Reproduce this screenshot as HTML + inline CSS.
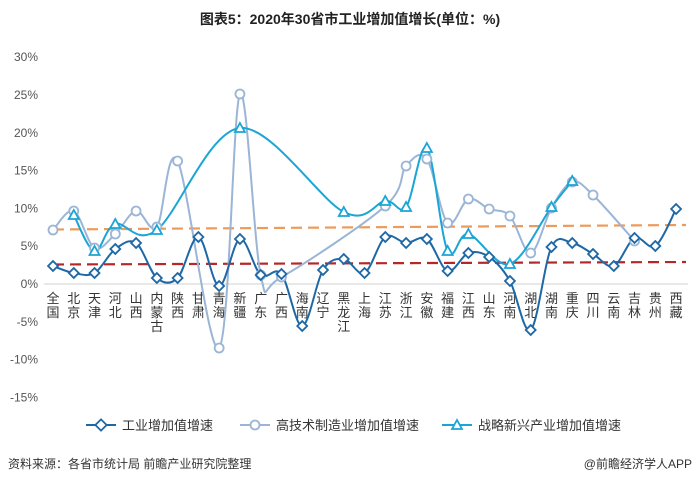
<!DOCTYPE html>
<html><head><meta charset="utf-8"><style>
body{margin:0;background:#fff;}
svg text{font-family:"Liberation Sans","Noto Sans CJK SC",sans-serif;}
</style></head><body>
<svg id="s" width="700" height="484" xmlns="http://www.w3.org/2000/svg">
<rect width="700" height="484" fill="#fff"/>
<text x="350" y="24" text-anchor="middle" font-size="14" font-weight="bold" fill="#222">图表5：2020年30省市工业增加值增长(单位：%)</text>
<g id="yax" font-size="12" fill="#555" text-anchor="end"></g>
<line x1="44" y1="284" x2="688" y2="284" stroke="#d0d0d0" stroke-width="1"/>
<g id="cat" font-size="13" fill="#333"></g>
<line x1="53" y1="229.5" x2="686" y2="225" stroke="#ee9a5a" stroke-width="2.2" stroke-dasharray="11,6"/>
<line x1="53" y1="264.5" x2="686" y2="262" stroke="#b5282a" stroke-width="2.2" stroke-dasharray="11,6"/>
<g id="series"></g>
<g font-size="13" fill="#333">
<line x1="86" y1="425" x2="116" y2="425" stroke="#1f68a6" stroke-width="2"/>
<rect x="97" y="421" width="8" height="8" transform="rotate(45 101 425)" fill="#fff" stroke="#1f68a6" stroke-width="1.8"/>
<text x="122" y="430">工业增加值增速</text>
<line x1="240" y1="425" x2="270" y2="425" stroke="#9ab5d6" stroke-width="2"/>
<circle cx="255" cy="425" r="4.5" fill="#fff" stroke="#9ab5d6" stroke-width="1.8"/>
<text x="276" y="430">高技术制造业增加值增速</text>
<line x1="442" y1="425" x2="472" y2="425" stroke="#1aa5d6" stroke-width="2"/>
<polygon points="457,420 462,429 452,429" fill="#fff" stroke="#1aa5d6" stroke-width="1.8"/>
<text x="478" y="430">战略新兴产业增加值增速</text>
</g>
<text x="8" y="468" font-size="12" fill="#333">资料来源：各省市统计局 前瞻产业研究院整理</text>
<text x="692" y="468" font-size="12" fill="#333" text-anchor="end">@前瞻经济学人APP</text>
</svg>
<script>
var NS="http://www.w3.org/2000/svg";
function el(t,a,p){var e=document.createElementNS(NS,t);for(var k in a)e.setAttribute(k,a[k]);p.appendChild(e);return e;}
var ya=document.getElementById('yax');
for(var v=30;v>=-15;v-=5){var y=284-v*7.56;var t=el('text',{x:38,y:y+4},ya);t.textContent=v+'%';}
var cats=["全国","北京","天津","河北","山西","内蒙古","陕西","甘肃","青海","新疆","广东","广西","海南","辽宁","黑龙江","上海","江苏","浙江","安徽","福建","江西","山东","河南","湖北","湖南","重庆","四川","云南","吉林","贵州","西藏"];
function X(i){return 53+i*20.77;}
var cg=document.getElementById('cat');
cats.forEach(function(c,i){for(var k=0;k<c.length;k++){var t=el('text',{x:X(i),y:303+k*14,'text-anchor':'middle'},cg);t.textContent=c[k];}});
var dark=[266,273,273,249,243,278,278,237,286,239,275,274,326,270,259,273,237,243,239,271,253,257,281,330,247,243,254,266,238,246,209];
var light={0:230,1:211,2:248,3:234,4:211,5:227,6:161,8:348,9:94,10:275,11:277,16:206,17:166,18:159,19:223,20:199,21:209,22:216,23:253,24:208,25:182,26:195,28:241};
var cyan={1:215,2:251,3:224,5:230,9:128,14:212,16:201,17:207,18:148,19:251,20:234,22:264,24:207,25:181};
function pts(o){var r=[];if(Array.isArray(o))o.forEach(function(y,i){r.push([X(i),y]);});else for(var k in o)r.push([X(+k),o[k]]);r.sort(function(a,b){return a[0]-b[0];});return r;}
function path(p){var d='M'+p[0][0]+','+p[0][1];var t=1/6;for(var i=0;i<p.length-1;i++){var p0=p[i-1]||p[i],p1=p[i],p2=p[i+1],p3=p[i+2]||p2;d+=' C'+(p1[0]+(p2[0]-p0[0])*t)+','+(p1[1]+(p2[1]-p0[1])*t)+' '+(p2[0]-(p3[0]-p1[0])*t)+','+(p2[1]-(p3[1]-p1[1])*t)+' '+p2[0]+','+p2[1];}return d;}
var sg=document.getElementById('series');
var L=pts(light),C=pts(cyan),D=pts(dark);
el('path',{d:path(L),fill:'none',stroke:'#9ab5d6','stroke-width':2},sg);
el('path',{d:path(C),fill:'none',stroke:'#1aa5d6','stroke-width':2},sg);
el('path',{d:path(D),fill:'none',stroke:'#1f68a6','stroke-width':2},sg);
L.forEach(function(p){el('circle',{cx:p[0],cy:p[1],r:4.5,fill:'#fff',stroke:'#9ab5d6','stroke-width':1.8},sg);});
C.forEach(function(p){el('polygon',{points:p[0]+','+(p[1]-5)+' '+(p[0]+5)+','+(p[1]+4)+' '+(p[0]-5)+','+(p[1]+4),fill:'#fff',stroke:'#1aa5d6','stroke-width':1.8},sg);});
D.forEach(function(p){el('rect',{x:p[0]-3.5,y:p[1]-3.5,width:7,height:7,transform:'rotate(45 '+p[0]+' '+p[1]+')',fill:'#fff',stroke:'#1f68a6','stroke-width':1.8},sg);});
</script>
</body></html>
